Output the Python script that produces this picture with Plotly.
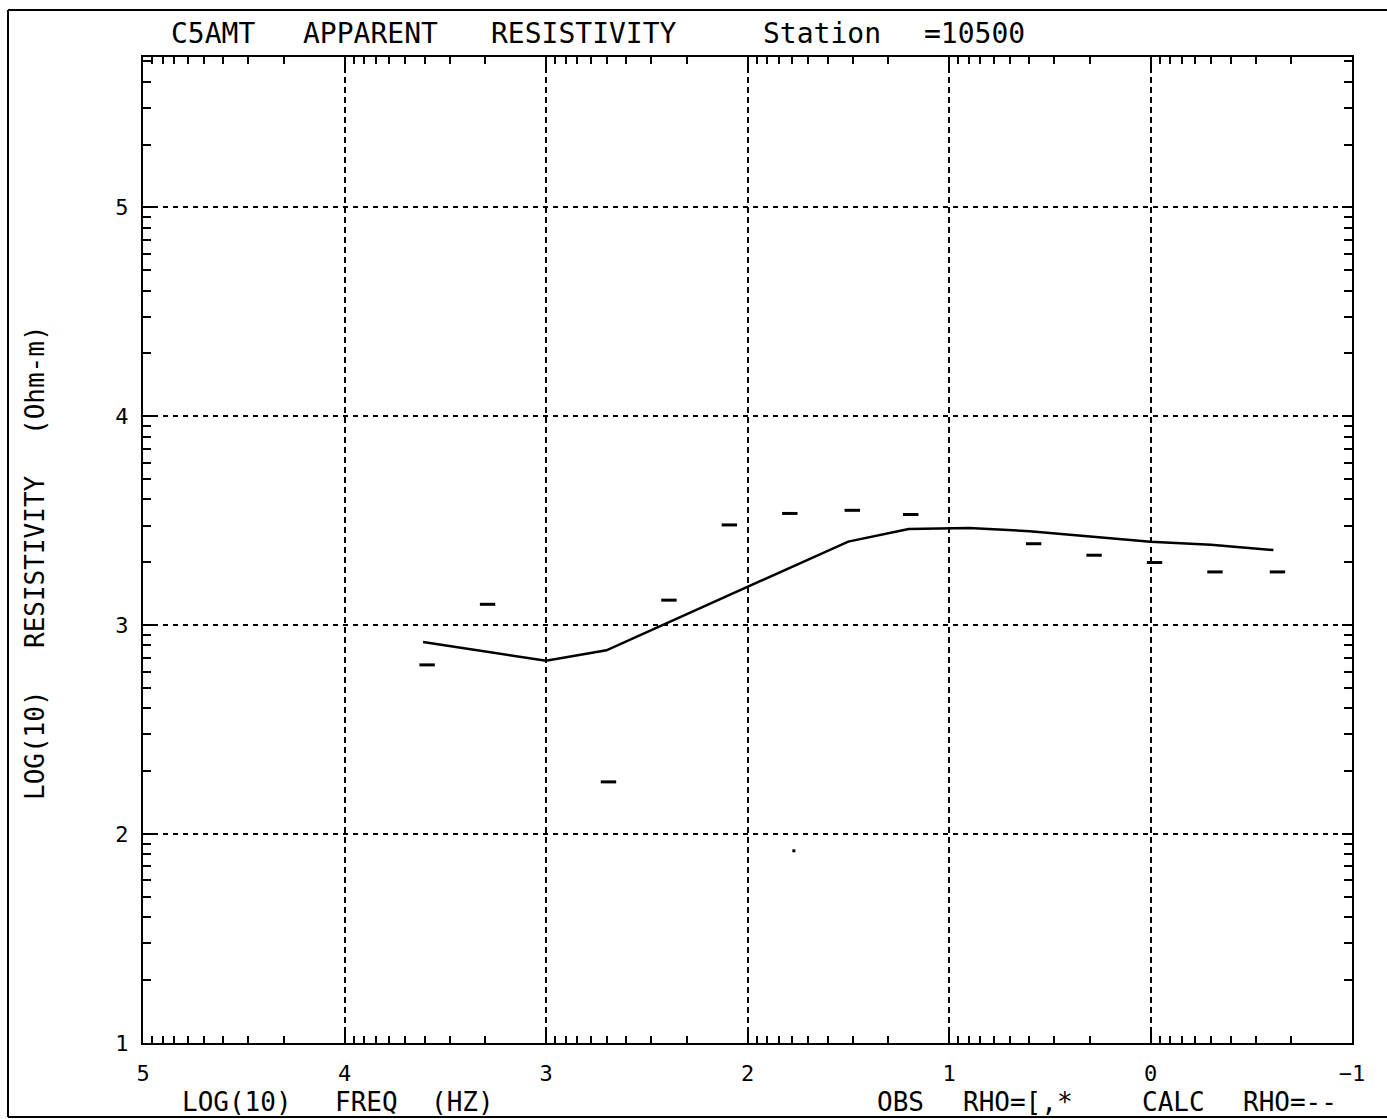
import math
import plotly.graph_objects as go

# ---- data ----
obs_freq = [3.59, 3.29, 2.69, 2.39, 2.09, 1.79, 1.48, 1.19, 0.58, 0.28, -0.02, -0.32, -0.63]
obs_rho = [2.81, 3.10, 2.25, 3.12, 3.48, 3.535, 3.55, 3.53, 3.39, 3.335, 3.30, 3.255, 3.255]
extra_freq = [1.77]
extra_rho = [1.92]
calc_freq = [3.61, 3.31, 3.0, 2.7, 2.4, 2.1, 1.8, 1.5, 1.2, 0.9, 0.6, 0.3, 0.0, -0.3, -0.61]
calc_rho = [2.92, 2.875, 2.83, 2.88, 3.01, 3.14, 3.27, 3.40, 3.46, 3.465, 3.45, 3.425, 3.40, 3.385, 3.36]
x_tickvals = [5, 4, 3, 2, 1, 0, -1]
x_ticktext = ["5", "4", "3", "2", "1", "0", "\u22121"]
y_tickvals = [1, 2, 3, 4, 5]
y_ticktext = ["1", "2", "3", "4", "5"]

FONT = "DejaVu Sans Mono"
W, H = 1387, 1119
L, R, T, B = 143, 35, 57, 76
PW, PH = W - L - R, H - T - B

def px(x):
    return (x - L) / PW

def py(y):
    return (H - B - y) / PH

x_minor = [d + math.log10(k) for d in range(-1, 5) for k in range(2, 10)]
y_minor = [v for v in (d + math.log10(k) for d in range(1, 6) for k in range(2, 10)) if v < 5.72]

fig = go.Figure()
fig.add_trace(go.Scatter(x=calc_freq, y=calc_rho, mode="lines",
                         line=dict(color="black", width=2.5), name="CALC RHO"))
fig.add_trace(go.Scatter(x=obs_freq, y=obs_rho, mode="markers",
                         marker=dict(symbol="line-ew", size=11,
                                     line=dict(color="black", width=3)),
                         name="OBS RHO"))
fig.add_trace(go.Scatter(x=extra_freq, y=extra_rho, mode="markers",
                         marker=dict(symbol="square", size=3, color="black"),
                         name="OBS *"))

axis_common = dict(
    showgrid=True, gridcolor="black", gridwidth=2,
    showline=True, linecolor="black", linewidth=2, mirror="allticks",
    ticks="inside", ticklen=10, tickwidth=2, tickcolor="black",
    zeroline=False,
    tickfont=dict(family=FONT, size=22, color="black"),
)

fig.update_xaxes(range=[5, -1], tickvals=x_tickvals, ticktext=x_ticktext,
                 griddash="6px,4px", ticklabelstandoff=10,
                 minor=dict(tickvals=x_minor, ticks="inside", ticklen=7,
                            tickwidth=2, tickcolor="black", showgrid=False),
                 **axis_common)
fig.update_yaxes(range=[1, 5.72], tickvals=y_tickvals, ticktext=y_ticktext,
                 griddash="5px,5px", ticklabelstandoff=8,
                 minor=dict(tickvals=y_minor, ticks="inside", ticklen=8,
                            tickwidth=2, tickcolor="black", showgrid=False),
                 **axis_common)

annots = []
def word(text, cx, cy, size=28, angle=0):
    annots.append(dict(text=text, x=px(cx), y=py(cy), xref="paper", yref="paper",
                       showarrow=False, xanchor="center", yanchor="middle",
                       textangle=angle,
                       font=dict(family=FONT, size=size, color="black")))

# title words
word("C5AMT", 213, 33)
word("APPARENT", 370, 33)
word("RESISTIVITY", 584, 33)
word("Station", 822, 33)
word("=10500", 974, 33)
# x-axis title and legend text
word("LOG(10)", 237, 1102, size=26)
word("FREQ", 366, 1102, size=26)
word("(HZ)", 462, 1102, size=26)
word("OBS", 900, 1102, size=26)
word("RHO=[,*", 1018, 1102, size=26)
word("CALC", 1173, 1102, size=26)
word("RHO=--", 1290, 1102, size=26)
# y-axis title
word("LOG(10)", 35, 745, size=26, angle=-90)
word("RESISTIVITY", 35, 562, size=26, angle=-90)
word("(Ohm-m)", 35, 380, size=26, angle=-90)

shapes = [
    dict(type="line", xref="paper", yref="paper", x0=px(8), x1=px(8), y0=py(10), y1=py(1117),
         line=dict(color="black", width=2)),
    dict(type="line", xref="paper", yref="paper", x0=px(8), x1=px(1387), y0=py(10), y1=py(10),
         line=dict(color="black", width=2)),
    dict(type="line", xref="paper", yref="paper", x0=px(8), x1=px(1387), y0=py(1117), y1=py(1117),
         line=dict(color="black", width=2)),
]

fig.update_layout(width=W, height=H, margin=dict(l=L, r=R, t=T, b=B),
                  plot_bgcolor="white", paper_bgcolor="white", showlegend=False,
                  annotations=annots, shapes=shapes)

fig.write_html("out.html", config={"displayModeBar": False},
               post_script="document.body.style.margin='0';document.body.style.overflow='hidden';")
